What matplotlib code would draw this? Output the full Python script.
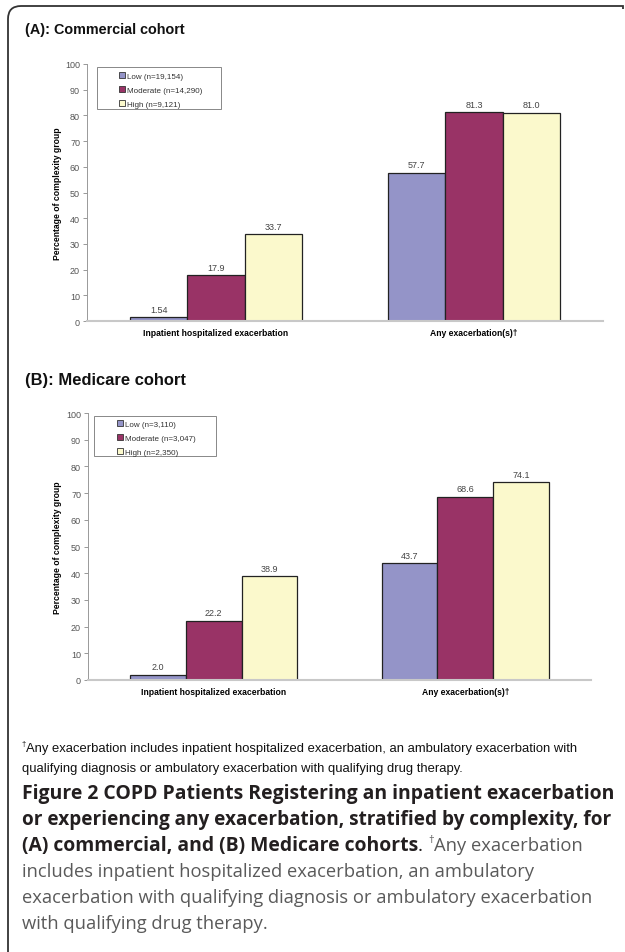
import matplotlib
matplotlib.use("Agg")
import matplotlib.pyplot as plt
from matplotlib.patches import Rectangle, PathPatch
from matplotlib.path import Path
import numpy as np

# ---------------- data ----------------
categories = ["Inpatient hospitalized exacerbation", "Any exacerbation(s)\u2020"]
series_names = ["Low", "Moderate", "High"]

commercial_low = ["1.54", "57.7"]
commercial_moderate = ["17.9", "81.3"]
commercial_high = ["33.7", "81.0"]
commercial_n = ["19,154", "14,290", "9,121"]

medicare_low = ["2.0", "43.7"]
medicare_moderate = ["22.2", "68.6"]
medicare_high = ["38.9", "74.1"]
medicare_n = ["3,110", "3,047", "2,350"]

y_ticks = list(range(0, 101, 10))

colors = ["#9494c8", "#993366", "#fbf9cc"]

W, H = 625, 953
fig = plt.figure(figsize=(W / 100, H / 100), dpi=100)
plt.rcParams["font.family"] = ["Liberation Sans", "DejaVu Sans"]
renderer = fig.canvas.get_renderer()


def fx(x):
    return x / W


def fy(y):
    return 1 - y / H


def fit_text(x, y, s, target_w, **kw):
    t = fig.text(fx(x), fy(y), s, fontsize=10, **kw)
    w = t.get_window_extent(renderer).width
    t.set_fontsize(10 * target_w / w)
    return t


# outer border (rounded top-left corner)
verts = [(fx(8), fy(953)), (fx(8), fy(20)), (fx(8), fy(7)), (fx(21), fy(7)), (fx(623), fy(7)), (fx(623), fy(10))]
codes = [Path.MOVETO, Path.LINETO, Path.CURVE3, Path.CURVE3, Path.LINETO, Path.LINETO]
fig.patches.append(PathPatch(Path(verts, codes), transform=fig.transFigure, fill=False,
                             edgecolor="#333333", linewidth=1.3))

FS = 6.2
LFS = 5.8


def panel(rect, title, title_y, lows, mods, highs, ns, legend_frame, legend_anchor, ylab_x):
    ax = fig.add_axes(rect)
    data = [[float(v) for v in lows], [float(v) for v in mods], [float(v) for v in highs]]
    texts = [lows, mods, highs]
    x = np.arange(len(categories))
    bw = 0.222
    for i in range(3):
        bars = ax.bar(x + (i - 1) * bw, data[i], width=bw, color=colors[i],
                      edgecolor="#222222", linewidth=0.9, zorder=2,
                      label=f"{series_names[i]} (n={ns[i]})")
        ax.bar_label(bars, labels=texts[i], padding=2.5, fontsize=6.5, color="#444444")
    ax.set_xlim(-0.5, 1.5)
    ax.set_ylim(0, 100)
    ax.set_yticks(y_ticks)
    ax.set_xticks(x)
    ax.set_xticklabels(categories, fontsize=FS, fontweight="bold")
    ax.tick_params(axis="x", length=0, pad=5.2)
    ax.tick_params(axis="y", length=3, width=0.6, color="#888888", labelsize=6.5,
                   labelcolor="#555555", pad=2)
    for s in ["top", "right"]:
        ax.spines[s].set_visible(False)
    ax.spines["left"].set_color("#999999")
    ax.spines["left"].set_linewidth(0.7)
    ax.spines["bottom"].set_color("#c8c8c8")
    ax.spines["bottom"].set_linewidth(1.5)
    ax.set_ylabel("Percentage of complexity group", fontsize=FS, fontweight="bold")
    ax.yaxis.set_label_coords(ylab_x, 0.5)
    # legend
    x0, y0, x1, y1 = legend_frame
    frame = Rectangle((fx(x0), fy(y1)), fx(x1 - x0), (y1 - y0) / H,
                      transform=fig.transFigure, facecolor="white",
                      edgecolor="#888888", linewidth=0.7, zorder=3, clip_on=False)
    ax.add_patch(frame)
    leg = ax.legend(loc="upper left", bbox_to_anchor=(fx(legend_anchor[0]), fy(legend_anchor[1])),
                    bbox_transform=fig.transFigure, frameon=False, fontsize=LFS,
                    handlelength=0.75, handleheight=0.75, handletextpad=0.2,
                    labelspacing=0.8, borderpad=0, borderaxespad=0)
    for h in leg.legend_handles:
        h.set_edgecolor("#333333")
        h.set_linewidth(0.6)
    for t in leg.get_texts():
        t.set_color("#333333")
    leg.set_zorder(5)
    fit_text(25, title_y, title, 160, fontweight="bold", va="center", color="#111111")
    return ax


panel([fx(87), fy(322), 516 / W, 257 / H], "(A): Commercial cohort", 30,
      commercial_low, commercial_moderate, commercial_high, commercial_n,
      (97, 68, 221, 110), (119, 73), (62 - 87) / 516)
panel([fx(88), fy(681), 503 / W, 267 / H], "(B): Medicare cohort", 381,
      medicare_low, medicare_moderate, medicare_high, medicare_n,
      (94, 417, 216, 457), (117, 421), (62 - 88) / 503)

# footnote
fn1 = fit_text(26, 749, "Any exacerbation includes inpatient hospitalized exacerbation, an ambulatory exacerbation with",
               552, va="center", color="#111111")
fig.text(fx(21.5), fy(745), "\u2020", fontsize=fn1.get_fontsize() * 0.6, va="center", color="#111111")
fig.text(fx(22), fy(769), "qualifying diagnosis or ambulatory exacerbation with qualifying drug therapy.",
         fontsize=fn1.get_fontsize(), va="center", color="#111111")

# caption
cap_font = ["Open Sans", "DejaVu Sans"]
bold_col = "#231f20"
norm_col = "#5a5a5a"
c1 = fit_text(22, 794, "Figure 2 COPD Patients Registering an inpatient exacerbation", 592,
              fontweight="bold", va="center", color=bold_col, family=cap_font)
fit_text(22, 820, "or experiencing any exacerbation, stratified by complexity, for", 592,
         fontweight="bold", va="center", color=bold_col, family=cap_font)
cs = c1.get_fontsize()
t3 = fig.text(fx(22), fy(846), "(A) commercial, and (B) Medicare cohorts",
              fontsize=cs, fontweight="bold", va="center", color=bold_col, family=cap_font)
e3 = t3.get_window_extent(renderer)
t3b = fig.text(e3.x1 / W, fy(846), ". ", fontsize=cs, va="center", color=bold_col, family=cap_font)
e3b = t3b.get_window_extent(renderer)
n5 = fit_text(22, 898, "exacerbation with qualifying diagnosis or ambulatory exacerbation", 572,
              va="center", color=norm_col, family=cap_font)
ns_ = n5.get_fontsize()
t3c = fig.text(e3b.x1 / W, fy(841), "\u2020", fontsize=ns_ * 0.6, va="center", color=norm_col, family=cap_font)
e3c = t3c.get_window_extent(renderer)
fig.text(e3c.x1 / W, fy(846), "Any exacerbation", fontsize=ns_, va="center", color=norm_col, family=cap_font)
fig.text(fx(22), fy(872), "includes inpatient hospitalized exacerbation, an ambulatory",
         fontsize=ns_, va="center", color=norm_col, family=cap_font)
fig.text(fx(22), fy(924), "with qualifying drug therapy.",
         fontsize=ns_, va="center", color=norm_col, family=cap_font)

fig.savefig("out.png", dpi=100)
